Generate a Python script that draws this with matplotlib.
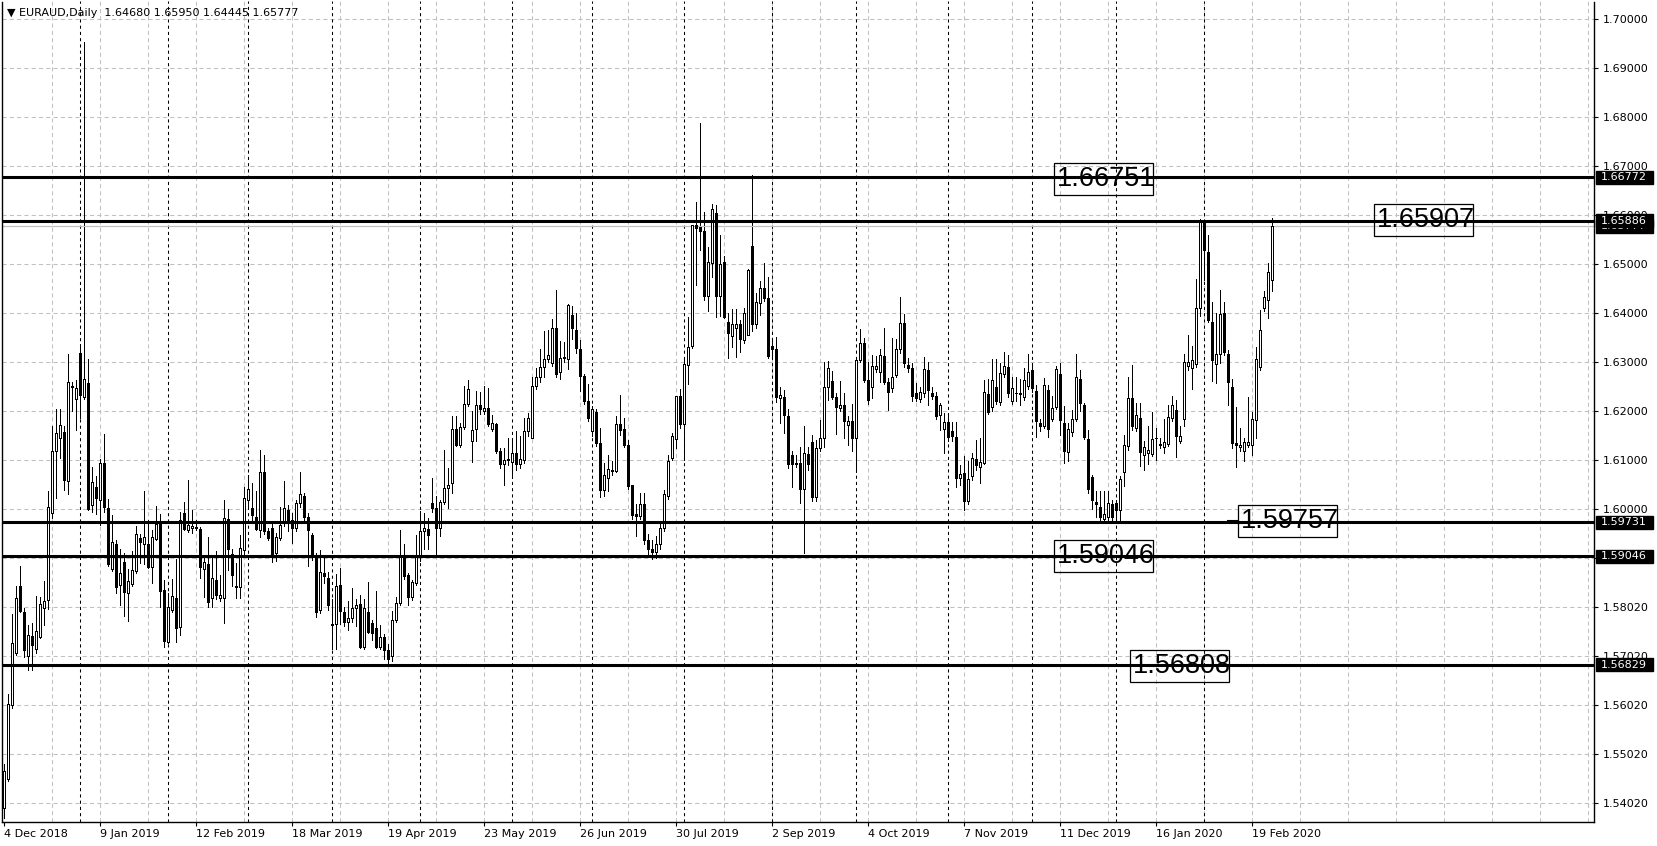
import numpy as np
import pandas as pd
import matplotlib
matplotlib.use('Agg')
import matplotlib.pyplot as plt
from matplotlib.patches import Rectangle
from matplotlib.transforms import blended_transform_factory

# EURAUD daily bars, 4 Dec 2018 .. 26 Feb 2020
opens = [
    1.5390, 1.5450, 1.5601, 1.5706, 1.5844, 1.5791, 1.5701, 1.5742, 1.5714, 1.5740,
    1.5798, 1.5815, 1.5992, 1.6119, 1.6145, 1.6157, 1.6057, 1.6252, 1.6226, 1.6318,
    1.6230, 1.6258, 1.6009, 1.6045, 1.6019, 1.6094, 1.6002, 1.5878, 1.5929, 1.5845,
    1.5892, 1.5829, 1.5847, 1.5874, 1.5942, 1.5929, 1.5929, 1.5882, 1.5939, 1.5971,
    1.5836, 1.5730, 1.5795, 1.5820, 1.5760, 1.5992, 1.5958, 1.5961, 1.5964, 1.5960,
    1.5878, 1.5888, 1.5820, 1.5856, 1.5818, 1.5820, 1.5981, 1.5908, 1.5844, 1.5842,
    1.5917, 1.6019, 1.6002, 1.5985, 1.5958, 1.6076, 1.5956, 1.5961, 1.5910, 1.5941,
    1.5975, 1.5999, 1.5978, 1.5961, 1.6012, 1.6028, 1.5985, 1.5948, 1.5903, 1.5795,
    1.5871, 1.5860, 1.5766, 1.5766, 1.5846, 1.5790, 1.5770, 1.5778, 1.5799, 1.5807,
    1.5720, 1.5790, 1.5768, 1.5758, 1.5720, 1.5739, 1.5713, 1.5700, 1.5775, 1.5809,
    1.5905, 1.5865, 1.5821, 1.5850, 1.5905, 1.5955, 1.5960, 1.6013, 1.6003, 1.5962,
    1.6015, 1.6044, 1.6054, 1.6163, 1.6132, 1.6168, 1.6214, 1.6139, 1.6163, 1.6212,
    1.6200, 1.6207, 1.6164, 1.6175, 1.6118, 1.6093, 1.6100, 1.6096, 1.6114, 1.6093,
    1.6101, 1.6159, 1.6146, 1.6252, 1.6269, 1.6290, 1.6307, 1.6299, 1.6370, 1.6280,
    1.6308, 1.6307, 1.6397, 1.6365, 1.6328, 1.6273, 1.6220, 1.6159, 1.6199, 1.6135,
    1.6039, 1.6064, 1.6078, 1.6078, 1.6175, 1.6163, 1.6132, 1.6050, 1.5990, 1.5986,
    1.6010, 1.5937, 1.5918, 1.5912, 1.5930, 1.5961, 1.6027, 1.6104, 1.6143, 1.6231,
    1.6174, 1.6295, 1.6334, 1.6580, 1.6577, 1.6568, 1.6436, 1.6502, 1.6604, 1.6436,
    1.6504, 1.6382, 1.6354, 1.6371, 1.6378, 1.6346, 1.6356, 1.6538, 1.6379, 1.6422,
    1.6451, 1.6431, 1.6333, 1.6327, 1.6227, 1.6229, 1.6190, 1.6111, 1.6094, 1.6094,
    1.6041, 1.6113, 1.6137, 1.6026, 1.6125, 1.6146, 1.6249, 1.6262, 1.6230, 1.6206,
    1.6213, 1.6172, 1.6180, 1.6145, 1.6305, 1.6339, 1.6263, 1.6250, 1.6286, 1.6281,
    1.6312, 1.6259, 1.6247, 1.6274, 1.6327, 1.6380, 1.6295, 1.6288, 1.6237, 1.6225,
    1.6237, 1.6284, 1.6237, 1.6232, 1.6193, 1.6163, 1.6179, 1.6160, 1.6148, 1.6063,
    1.6074, 1.6016, 1.6067, 1.6103, 1.6086, 1.6095, 1.6236, 1.6208, 1.6250, 1.6218,
    1.6276, 1.6290, 1.6222, 1.6237, 1.6236, 1.6229, 1.6251, 1.6284, 1.6242, 1.6176,
    1.6171, 1.6244, 1.6184, 1.6209, 1.6276, 1.6176, 1.6117, 1.6158, 1.6184, 1.6266,
    1.6212, 1.6144, 1.6066, 1.6015, 1.6005, 1.5980, 1.5985, 1.6010, 1.6013, 1.5999,
    1.6076, 1.6129, 1.6227, 1.6166, 1.6186, 1.6110, 1.6115, 1.6113, 1.6146, 1.6131,
    1.6128, 1.6134, 1.6186, 1.6203, 1.6140, 1.6185, 1.6292, 1.6288, 1.6297, 1.6410,
    1.6584, 1.6525, 1.6382, 1.6297, 1.6316, 1.6401, 1.6317, 1.6250, 1.6135, 1.6127,
    1.6118, 1.6132, 1.6132, 1.6183, 1.6290, 1.6411, 1.6427, 1.64680,
]
highs = [
    1.5480, 1.5624, 1.5786, 1.5844, 1.5884, 1.5798, 1.5764, 1.5767, 1.5823, 1.5822,
    1.5854, 1.6037, 1.6170, 1.6204, 1.6204, 1.6169, 1.6317, 1.6259, 1.6264, 1.6337,
    1.6953, 1.6306, 1.6087, 1.6067, 1.6102, 1.6153, 1.6022, 1.5988, 1.5937, 1.5920,
    1.5910, 1.5878, 1.5915, 1.5966, 1.5950, 1.6037, 1.5978, 1.5958, 1.6007, 1.5990,
    1.5856, 1.5829, 1.5857, 1.5898, 1.5995, 1.6014, 1.6060, 1.5999, 1.5978, 1.5963,
    1.5903, 1.5944, 1.5903, 1.5915, 1.5865, 1.6019, 1.6001, 1.5918, 1.5890, 1.5947,
    1.6046, 1.6070, 1.6053, 1.6037, 1.6121, 1.6111, 1.5962, 1.5977, 1.5951, 1.6005,
    1.6058, 1.6009, 1.5992, 1.6020, 1.6076, 1.6033, 1.5992, 1.5951, 1.5910, 1.5917,
    1.5905, 1.5873, 1.5816, 1.5867, 1.5880, 1.5800, 1.5812, 1.5839, 1.5816, 1.5826,
    1.5816, 1.5852, 1.5775, 1.5833, 1.5763, 1.5745, 1.5725, 1.5792, 1.5822, 1.5958,
    1.5930, 1.5870, 1.5856, 1.5948, 1.5996, 1.5993, 1.5982, 1.6064, 1.6027, 1.6020,
    1.6122, 1.6084, 1.6190, 1.6190, 1.6176, 1.6252, 1.6263, 1.6200, 1.6241, 1.6239,
    1.6251, 1.6248, 1.6193, 1.6176, 1.6125, 1.6125, 1.6146, 1.6146, 1.6159, 1.6149,
    1.6186, 1.6197, 1.6271, 1.6288, 1.6328, 1.6363, 1.6365, 1.6388, 1.6448, 1.6343,
    1.6341, 1.6418, 1.6414, 1.6401, 1.6346, 1.6276, 1.6256, 1.6210, 1.6205, 1.6166,
    1.6095, 1.6111, 1.6099, 1.6190, 1.6233, 1.6187, 1.6142, 1.6050, 1.6010, 1.6033,
    1.6033, 1.5950, 1.5937, 1.5945, 1.5975, 1.6040, 1.6111, 1.6156, 1.6231, 1.6245,
    1.6305, 1.6393, 1.6580, 1.6628, 1.6788, 1.6607, 1.6536, 1.6624, 1.6621, 1.6560,
    1.6516, 1.6400, 1.6408, 1.6408, 1.6386, 1.6410, 1.6491, 1.6682, 1.6441, 1.6465,
    1.6502, 1.6475, 1.6349, 1.6351, 1.6250, 1.6244, 1.6204, 1.6120, 1.6111, 1.6128,
    1.6169, 1.6128, 1.6152, 1.6141, 1.6182, 1.6301, 1.6303, 1.6283, 1.6238, 1.6262,
    1.6238, 1.6190, 1.6215, 1.6305, 1.6367, 1.6349, 1.6301, 1.6315, 1.6312, 1.6327,
    1.6369, 1.6267, 1.6350, 1.6347, 1.6434, 1.6399, 1.6308, 1.6298, 1.6257, 1.6250,
    1.6310, 1.6301, 1.6250, 1.6240, 1.6216, 1.6196, 1.6196, 1.6179, 1.6179, 1.6090,
    1.6108, 1.6098, 1.6115, 1.6141, 1.6146, 1.6263, 1.6265, 1.6307, 1.6307, 1.6299,
    1.6322, 1.6314, 1.6271, 1.6271, 1.6265, 1.6288, 1.6316, 1.6299, 1.6254, 1.6185,
    1.6268, 1.6254, 1.6231, 1.6293, 1.6299, 1.6211, 1.6176, 1.6203, 1.6316, 1.6285,
    1.6217, 1.6161, 1.6071, 1.6037, 1.6037, 1.6037, 1.6037, 1.6020, 1.6020, 1.6067,
    1.6151, 1.6270, 1.6295, 1.6217, 1.6217, 1.6139, 1.6171, 1.6199, 1.6166, 1.6146,
    1.6184, 1.6212, 1.6231, 1.6224, 1.6170, 1.6316, 1.6356, 1.6333, 1.6470, 1.6593,
    1.6591, 1.6559, 1.6423, 1.6400, 1.6448, 1.6423, 1.6326, 1.6265, 1.6209, 1.6166,
    1.6145, 1.6229, 1.6199, 1.6331, 1.6407, 1.6445, 1.6503, 1.65950,
]
lows = [
    1.5370, 1.5445, 1.5594, 1.5703, 1.5790, 1.5699, 1.5672, 1.5672, 1.5706, 1.5738,
    1.5764, 1.5796, 1.5982, 1.6024, 1.6104, 1.6039, 1.6032, 1.6201, 1.6161, 1.6186,
    1.6225, 1.5999, 1.5995, 1.5990, 1.5967, 1.5994, 1.5885, 1.5874, 1.5829, 1.5805,
    1.5783, 1.5772, 1.5843, 1.5870, 1.5890, 1.5888, 1.5880, 1.5849, 1.5937, 1.5801,
    1.5720, 1.5727, 1.5791, 1.5730, 1.5744, 1.5958, 1.5953, 1.5951, 1.5958, 1.5859,
    1.5822, 1.5800, 1.5800, 1.5817, 1.5812, 1.5767, 1.5876, 1.5844, 1.5820, 1.5819,
    1.5907, 1.6000, 1.5975, 1.5958, 1.5944, 1.5950, 1.5938, 1.5893, 1.5895, 1.5938,
    1.5965, 1.5956, 1.5931, 1.5955, 1.6005, 1.5975, 1.5885, 1.5897, 1.5780, 1.5788,
    1.5850, 1.5795, 1.5714, 1.5714, 1.5765, 1.5761, 1.5754, 1.5770, 1.5761, 1.5717,
    1.5714, 1.5748, 1.5734, 1.5717, 1.5714, 1.5695, 1.5683, 1.5690, 1.5770, 1.5805,
    1.5858, 1.5805, 1.5815, 1.5845, 1.5894, 1.5919, 1.5918, 1.5995, 1.5907, 1.5945,
    1.6010, 1.6003, 1.6033, 1.6129, 1.6127, 1.6163, 1.6210, 1.6097, 1.6139, 1.6195,
    1.6195, 1.6170, 1.6160, 1.6115, 1.6085, 1.6050, 1.6090, 1.6064, 1.6080, 1.6085,
    1.6095, 1.6150, 1.6146, 1.6245, 1.6260, 1.6271, 1.6300, 1.6292, 1.6270, 1.6266,
    1.6300, 1.6287, 1.6348, 1.6320, 1.6241, 1.6215, 1.6180, 1.6150, 1.6130, 1.6025,
    1.6027, 1.6038, 1.6070, 1.6076, 1.6152, 1.6128, 1.6042, 1.5980, 1.5945, 1.5980,
    1.5930, 1.5905, 1.5898, 1.5900, 1.5920, 1.5955, 1.6022, 1.6100, 1.6125, 1.6165,
    1.6101, 1.6256, 1.6330, 1.6458, 1.6529, 1.6427, 1.6405, 1.6475, 1.6392, 1.6395,
    1.6390, 1.6308, 1.6332, 1.6310, 1.6322, 1.6339, 1.6356, 1.6363, 1.6369, 1.6397,
    1.6425, 1.6308, 1.6310, 1.6218, 1.6176, 1.6156, 1.6085, 1.6046, 1.6087, 1.6012,
    1.5911, 1.6080, 1.6016, 1.6016, 1.6120, 1.6128, 1.6223, 1.6225, 1.6153, 1.6200,
    1.6145, 1.6131, 1.6120, 1.6076, 1.6300, 1.6259, 1.6215, 1.6227, 1.6280, 1.6259,
    1.6255, 1.6203, 1.6240, 1.6270, 1.6320, 1.6290, 1.6280, 1.6220, 1.6220, 1.6218,
    1.6230, 1.6213, 1.6225, 1.6185, 1.6162, 1.6114, 1.6140, 1.6140, 1.6046, 1.6050,
    1.5999, 1.6010, 1.6060, 1.6081, 1.6054, 1.6093, 1.6195, 1.6200, 1.6215, 1.6212,
    1.6270, 1.6229, 1.6214, 1.6220, 1.6212, 1.6224, 1.6245, 1.6240, 1.6148, 1.6160,
    1.6165, 1.6148, 1.6180, 1.6205, 1.6152, 1.6095, 1.6098, 1.6150, 1.6180, 1.6200,
    1.6144, 1.6033, 1.6000, 1.5985, 1.5975, 1.5974, 1.5976, 1.5975, 1.5975, 1.5975,
    1.6047, 1.6122, 1.6162, 1.6160, 1.6089, 1.6080, 1.6093, 1.6108, 1.6101, 1.6125,
    1.6114, 1.6130, 1.6180, 1.6107, 1.6135, 1.6171, 1.6285, 1.6246, 1.6290, 1.6394,
    1.6467, 1.6382, 1.6261, 1.6257, 1.6299, 1.6315, 1.6212, 1.6125, 1.6086, 1.6120,
    1.6098, 1.6128, 1.6110, 1.6146, 1.6285, 1.6405, 1.6390, 1.64445,
]
closes = [
    1.5465, 1.5602, 1.5727, 1.5818, 1.5793, 1.5713, 1.5744, 1.5723, 1.5752, 1.5806,
    1.5813, 1.6005, 1.6119, 1.6155, 1.6173, 1.6059, 1.6259, 1.6250, 1.6247, 1.6233,
    1.6265, 1.6001, 1.6055, 1.6024, 1.6095, 1.6004, 1.5888, 1.5933, 1.5841, 1.5869,
    1.5832, 1.5854, 1.5876, 1.5949, 1.5933, 1.5943, 1.5882, 1.5944, 1.5969, 1.5833,
    1.5732, 1.5800, 1.5824, 1.5757, 1.5978, 1.5959, 1.5968, 1.5965, 1.5962, 1.5883,
    1.5893, 1.5810, 1.5859, 1.5825, 1.5825, 1.5982, 1.5920, 1.5865, 1.5842, 1.5920,
    1.6024, 1.6041, 1.5988, 1.5959, 1.6076, 1.5956, 1.5941, 1.5907, 1.5943, 1.5968,
    1.6002, 1.5978, 1.5961, 1.6012, 1.6031, 1.5985, 1.5958, 1.5902, 1.5791, 1.5873,
    1.5864, 1.5804, 1.5763, 1.5843, 1.5792, 1.5771, 1.5778, 1.5799, 1.5804, 1.5720,
    1.5799, 1.5750, 1.5748, 1.5720, 1.5739, 1.5713, 1.5695, 1.5775, 1.5809, 1.5905,
    1.5863, 1.5821, 1.5851, 1.5904, 1.5955, 1.5962, 1.5947, 1.6003, 1.5962, 1.6015,
    1.6044, 1.6050, 1.6164, 1.6132, 1.6168, 1.6214, 1.6246, 1.6161, 1.6212, 1.6205,
    1.6207, 1.6174, 1.6176, 1.6118, 1.6093, 1.6101, 1.6103, 1.6115, 1.6093, 1.6103,
    1.6159, 1.6186, 1.6252, 1.6269, 1.6290, 1.6307, 1.6314, 1.6370, 1.6277, 1.6309,
    1.6310, 1.6417, 1.6369, 1.6329, 1.6273, 1.6220, 1.6186, 1.6205, 1.6135, 1.6039,
    1.6069, 1.6082, 1.6080, 1.6175, 1.6161, 1.6132, 1.6047, 1.5989, 1.5986, 1.6010,
    1.5937, 1.5918, 1.5912, 1.5930, 1.5961, 1.6031, 1.6099, 1.6150, 1.6231, 1.6174,
    1.6296, 1.6331, 1.6580, 1.6575, 1.6567, 1.6436, 1.6504, 1.6613, 1.6436, 1.6500,
    1.6393, 1.6359, 1.6378, 1.6378, 1.6347, 1.6400, 1.6488, 1.6379, 1.6424, 1.6451,
    1.6431, 1.6312, 1.6327, 1.6229, 1.6233, 1.6193, 1.6092, 1.6092, 1.6093, 1.6041,
    1.6114, 1.6092, 1.6026, 1.6125, 1.6146, 1.6249, 1.6288, 1.6230, 1.6208, 1.6213,
    1.6181, 1.6181, 1.6146, 1.6305, 1.6339, 1.6263, 1.6223, 1.6293, 1.6293, 1.6314,
    1.6259, 1.6240, 1.6271, 1.6327, 1.6380, 1.6298, 1.6288, 1.6232, 1.6228, 1.6239,
    1.6286, 1.6244, 1.6232, 1.6191, 1.6213, 1.6179, 1.6148, 1.6150, 1.6063, 1.6073,
    1.6016, 1.6062, 1.6105, 1.6091, 1.6097, 1.6239, 1.6198, 1.6263, 1.6220, 1.6278,
    1.6292, 1.6237, 1.6248, 1.6238, 1.6237, 1.6263, 1.6280, 1.6248, 1.6180, 1.6171,
    1.6253, 1.6163, 1.6207, 1.6286, 1.6183, 1.6118, 1.6164, 1.6184, 1.6271, 1.6217,
    1.6148, 1.6041, 1.6020, 1.6010, 1.5985, 1.5990, 1.6013, 1.5985, 1.5999, 1.6062,
    1.6132, 1.6227, 1.6169, 1.6193, 1.6116, 1.6127, 1.6122, 1.6144, 1.6145, 1.6134,
    1.6137, 1.6188, 1.6212, 1.6149, 1.6150, 1.6301, 1.6300, 1.6305, 1.6410, 1.6591,
    1.6529, 1.6387, 1.6304, 1.6316, 1.6399, 1.6321, 1.6260, 1.6135, 1.6131, 1.6131,
    1.6137, 1.6137, 1.6185, 1.6307, 1.6365, 1.6433, 1.6484, 1.65777,
]

# trading days shown (weekdays without 25 Dec / 1 Jan)
holidays = ['2018-12-25', '2019-01-01', '2019-12-25', '2020-01-01']
dates = pd.bdate_range('2018-12-04', '2020-02-26').drop(pd.to_datetime(holidays))

date_labels = ['4 Dec 2018', '9 Jan 2019', '12 Feb 2019', '18 Mar 2019', '19 Apr 2019',
               '23 May 2019', '26 Jun 2019', '30 Jul 2019', '2 Sep 2019', '4 Oct 2019',
               '7 Nov 2019', '11 Dec 2019', '16 Jan 2020', '19 Feb 2020']
price_ticks = [1.70, 1.69, 1.68, 1.67, 1.66, 1.65, 1.64, 1.63, 1.62, 1.61, 1.60,
               1.59, 1.58, 1.57, 1.56, 1.55, 1.54]
price_labels = ['1.70000', '1.69000', '1.68000', '1.67000', '1.66000', '1.65000',
                '1.64000', '1.63000', '1.62000', '1.61000', '1.60000', '',
                '1.58020', '1.57020', '1.56020', '1.55020', '1.54020']

# horizontal levels and their right-hand tags
levels = [1.66772, 1.65886, 1.59731, 1.59046, 1.56829]
bid = 1.65777

# text objects drawn on the chart: (bar, price, text)
notes = [(262.65, 1.66751, '1.66751'), (342.65, 1.65907, '1.65907'),
         (308.65, 1.59757, '1.59757'), (262.65, 1.59046, '1.59046'),
         (281.65, 1.56808, '1.56808')]

header = '\u25bc EURAUD,Daily  1.64680 1.65950 1.64445 1.65777'


def main():
    plt.rcParams['font.family'] = ['DejaVu Sans']
    fig = plt.figure(figsize=(16.58, 8.46), dpi=100)
    W, H = 1658.0, 846.0
    ax = fig.add_axes([2.3 / W, (H - 822.3) / H, 1592.2 / W, 820.8 / H])
    PX = 1 / 4900.0  # price per pixel
    ax.set_xlim(-0.35, 397.7)
    ax.set_ylim(1.70 - 803.0 * PX, 1.70 + 17.8 * PX)

    n = len(closes)
    x = np.arange(n)
    o = np.array(opens)
    c = np.array(closes)
    h = np.array(highs)
    l = np.array(lows)

    # grid
    for p in price_ticks:
        ax.axhline(p, color='#c0c0c0', lw=0.75, ls=(0, (4, 3)), zorder=0)
    for gx in range(12, 398, 12):
        ax.axvline(gx, color='#c0c0c0', lw=0.75, ls=(0, (4, 3)), zorder=0)

    # month separators
    for i in range(1, len(dates)):
        if dates[i].month != dates[i - 1].month:
            ax.axvline(i, color='black', lw=0.75, ls=(0, (3, 3)), zorder=1)

    # candles
    up = c >= o
    ax.vlines(x, l, h, color='black', lw=0.6, zorder=2, antialiased=False)
    bottom = np.minimum(o, c)
    height = np.abs(c - o)
    ax.bar(x[up], height[up], bottom=bottom[up], width=0.5, color='white',
           edgecolor='black', linewidth=0.6, zorder=3, antialiased=False)
    ax.bar(x[~up], height[~up], bottom=bottom[~up], width=0.5, color='black',
           edgecolor='black', linewidth=0.6, zorder=3, antialiased=False)

    # bid line and levels
    ax.axhline(bid, color='#c0c0c0', lw=0.9, zorder=2)
    for lv in levels:
        ax.axhline(lv, color='black', lw=2.2, zorder=4)
    ax.plot([306.2, 308.6], [1.59757, 1.59757], color='black', lw=1.5, zorder=4)

    # text objects with frames
    for bx, py, s in notes:
        ax.add_patch(Rectangle((bx, py - 16 * PX), 24.8, 32 * PX, fill=False,
                               ec='black', lw=0.9, zorder=5))
        ax.text(bx + 0.6, py, s, fontsize=19.5, family='Liberation Sans',
                va='center', ha='left', zorder=6)

    # axes styling
    ax.spines['top'].set_visible(False)
    for side in ['left', 'right', 'bottom']:
        ax.spines[side].set_linewidth(1.0)
    ax.yaxis.tick_right()
    ax.set_yticks(price_ticks)
    ax.set_yticklabels(price_labels)
    ax.tick_params(axis='y', length=3, width=0.8, pad=2.8, labelsize=8)
    ax.set_xticks(range(0, 24 * len(date_labels), 24))
    ax.set_xticklabels(date_labels)
    ax.tick_params(axis='x', length=3, width=0.8, pad=2.0, labelsize=8)
    for lbl in ax.get_xticklabels():
        lbl.set_horizontalalignment('left')

    # price tags at the right, later ones on top
    trans = blended_transform_factory(ax.transAxes, ax.transData)
    x0 = (1596 - 2.3) / 1592.2
    tags = [(bid, '1.65777')] + [(lv, '%.5f' % lv) for lv in levels]
    for k, (py, s) in enumerate(tags):
        z = 7 + 2 * k
        ax.add_patch(Rectangle((x0, py - 6.5 * PX), 57 / 1592.2, 13 * PX,
                               transform=trans, fc='black', ec='black',
                               clip_on=False, zorder=z))
        ax.text(x0 + 4.5 / 1592.2, py, s, transform=trans, color='white',
                fontsize=8, va='center', ha='left', clip_on=False, zorder=z + 1)

    fig.text(7 / W, 1 - 13 / H, header, fontsize=8, va='center', ha='left')

    fig.savefig('out.png', dpi=100, facecolor='white')


if __name__ == '__main__':
    main()
